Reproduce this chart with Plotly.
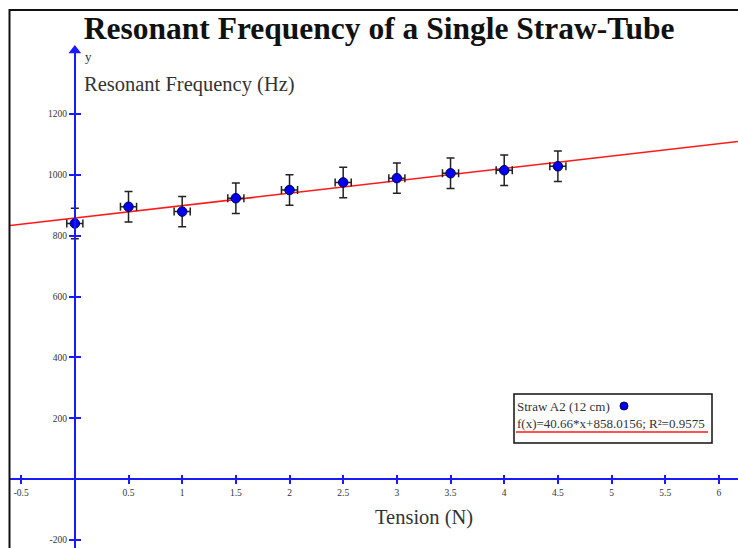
import plotly.graph_objects as go

# ---- data ----
tension = [0, 0.5, 1, 1.5, 2, 2.5, 3, 3.5, 4, 4.5]
frequency = [840, 895, 879, 923, 950, 975, 989, 1005, 1015, 1028]
freq_err = [50] * 10
tension_err = [0.075] * 10
fit_slope = 40.66
fit_intercept = 858.0156
fit_r2 = 0.9575

x_ticks = [-0.5, 0.5, 1, 1.5, 2, 2.5, 3, 3.5, 4, 4.5, 5, 5.5, 6]
y_ticks = [-200, 200, 400, 600, 800, 1000, 1200]

x_range = [-0.604, 6.178]
y_range = [-226.4, 1416.7]

SERIF = "Liberation Serif, Times New Roman, serif"
BLUE = "#1a1aff"

# axis crossing positions (paper fractions)
x_axis_pos = (0 - y_range[0]) / (y_range[1] - y_range[0])
y_axis_pos = (0 - x_range[0]) / (x_range[1] - x_range[0])

fit_x = [x_range[0], x_range[1]]
fit_y = [fit_slope * v + fit_intercept for v in fit_x]

fig = go.Figure()

fig.add_trace(go.Scatter(
    x=fit_x, y=fit_y, mode="lines",
    line=dict(color="#ff1a1a", width=1.5),
    hoverinfo="skip", showlegend=False,
))

fig.add_trace(go.Scatter(
    x=tension, y=frequency, mode="markers",
    marker=dict(color="#0000ee", size=9.5, line=dict(color="#00005a", width=1)),
    error_y=dict(type="data", array=freq_err, color="#222222", thickness=1.5, width=4),
    error_x=dict(type="data", array=tension_err, color="#222222", thickness=1.5, width=4),
    name="Straw A2 (12 cm)", showlegend=False,
))

# arrowhead on the y axis
fig.add_trace(go.Scatter(
    x=[0], y=[y_range[1] - 8], mode="markers",
    marker=dict(symbol="triangle-up", size=11, color=BLUE),
    cliponaxis=False, hoverinfo="skip", showlegend=False,
))

# invisible trace to realise the overlay axes (inside tick halves)
fig.add_trace(go.Scatter(
    x=[None], y=[None], xaxis="x2", yaxis="y2", mode="markers",
    showlegend=False, hoverinfo="skip",
))

tickfont = dict(family=SERIF, size=9.5, color="#333333")

fig.update_layout(
    width=738, height=548,
    margin=dict(l=10, r=0, t=48, b=0),
    paper_bgcolor="white", plot_bgcolor="white",
    showlegend=False,
    title=dict(
        text="<b>Resonant Frequency of a Single Straw-Tube</b>",
        font=dict(family=SERIF, size=31.5, color="#111111"),
        x=0.507, xref="paper", xanchor="center",
        y=1 - 28 / 548, yref="container", yanchor="middle",
    ),
    xaxis=dict(
        range=x_range, showgrid=False, zeroline=False,
        showline=True, linecolor=BLUE, linewidth=2,
        anchor="free", position=x_axis_pos,
        tickmode="array", tickvals=x_ticks, ticktext=[str(v) for v in x_ticks],
        ticks="outside", ticklen=4, tickwidth=1.5, tickcolor=BLUE,
        tickfont=tickfont,
    ),
    yaxis=dict(
        range=y_range, showgrid=False, zeroline=False,
        showline=True, linecolor=BLUE, linewidth=2,
        anchor="free", position=y_axis_pos,
        tickmode="array", tickvals=y_ticks, ticktext=[str(v) for v in y_ticks],
        ticks="outside", ticklen=5, tickwidth=1.5, tickcolor=BLUE,
        tickfont=tickfont,
    ),
    xaxis2=dict(
        range=x_range, overlaying="x", anchor="free", position=x_axis_pos,
        showgrid=False, zeroline=False, showline=False,
        tickmode="array", tickvals=x_ticks,
        ticks="inside", ticklen=4, tickwidth=1.5, tickcolor=BLUE,
        showticklabels=False,
    ),
    yaxis2=dict(
        range=y_range, overlaying="y", anchor="free", position=y_axis_pos,
        side="left",
        showgrid=False, zeroline=False, showline=False,
        tickmode="array", tickvals=y_ticks,
        ticks="inside", ticklen=5, tickwidth=1.5, tickcolor=BLUE,
        showticklabels=False,
    ),
)


def px(xp):
    return (xp - 10) / 728


def py(yp):
    return (548 - yp) / 500


annotations = [
    dict(text="y", x=px(83), y=py(56), xref="paper", yref="paper",
         xanchor="left", yanchor="middle", showarrow=False,
         font=dict(family=SERIF, size=13, color="#333333")),
    dict(text="Resonant Frequency (Hz)", x=px(82), y=py(85), xref="paper", yref="paper",
         xanchor="left", yanchor="middle", showarrow=False,
         font=dict(family=SERIF, size=20.5, color="#333333")),
    dict(text="Tension (N)", x=px(373), y=py(517), xref="paper", yref="paper",
         xanchor="left", yanchor="middle", showarrow=False,
         font=dict(family=SERIF, size=20.5, color="#333333")),
    dict(text="Straw A2 (12 cm)", x=px(515), y=py(406), xref="paper", yref="paper",
         xanchor="left", yanchor="middle", showarrow=False,
         font=dict(family=SERIF, size=13, color="#333333")),
    dict(text=f"f(x)={fit_slope}*x+{fit_intercept}; R²={fit_r2}",
         x=px(515), y=py(423), xref="paper", yref="paper",
         xanchor="left", yanchor="middle", showarrow=False,
         font=dict(family=SERIF, size=13, color="#333333")),
]

shapes = [
    # outer frame
    dict(type="rect", xref="paper", yref="paper",
         x0=px(9.5), x1=px(760), y0=py(570), y1=py(10),
         line=dict(color="#111111", width=2), fillcolor="rgba(0,0,0,0)", layer="above"),
    # legend box
    dict(type="rect", xref="paper", yref="paper",
         x0=px(514), x1=px(712), y0=py(443), y1=py(394),
         line=dict(color="#111111", width=1.5), fillcolor="white", layer="above"),
    # legend marker
    dict(type="circle", xref="paper", yref="paper",
         xsizemode="pixel", ysizemode="pixel", xanchor=px(624), yanchor=py(406),
         x0=-4, x1=4, y0=-4, y1=4,
         fillcolor="#0000ee", line=dict(color="#00005a", width=1), layer="above"),
    # legend fit line (underline)
    dict(type="line", xref="paper", yref="paper",
         x0=px(516), x1=px(708), y0=py(432), y1=py(432),
         line=dict(color="#ff1a1a", width=1.5), layer="above"),
]

fig.update_layout(annotations=annotations, shapes=shapes)

fig.write_html("out.html")
